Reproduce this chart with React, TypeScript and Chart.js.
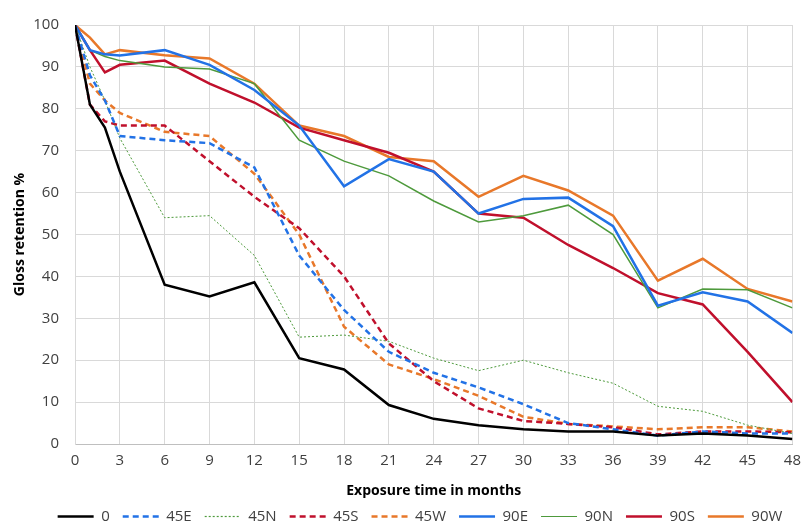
import React, { useEffect, useRef } from "react";
import { Chart, registerables } from "chart.js";

Chart.register(...registerables);

const months = [0, 1, 2, 3, 6, 9, 12, 15, 18, 21, 24, 27, 30, 33, 36, 39, 42, 45, 48];

const s0 = [100, 81, 75.5, 65, 38, 35.2, 38.6, 20.5, 17.8, 9.3, 6, 4.5, 3.5, 3, 3, 2, 2.5, 2, 1.2];
const s45E = [100, 88, 82, 73.5, 72.5, 71.8, 66, 45, 32, 22, 17, 13.5, 9.5, 5, 3.5, 2, 3, 2.5, 2.5];
const s45N = [100, 90, 82, 73, 54, 54.5, 45, 25.5, 26, 24.5, 20.5, 17.5, 20, 17, 14.5, 9, 7.8, 4.5, 2.5];
const s45S = [100, 81, 77, 76, 76, 67.5, 59, 51.5, 40, 24, 15, 8.5, 5.5, 4.8, 4, 2.3, 3, 3, 2.8];
const s45W = [100, 86, 82, 79, 74.5, 73.5, 64.5, 50, 28, 19, 15.5, 11.5, 6.5, 4.8, 4.2, 3.5, 4, 4, 3];
const s90E = [100, 94, 93, 92.7, 94, 90.5, 84.5, 76, 61.5, 68, 65, 55, 58.5, 58.8, 52, 33, 36.2, 34, 26.5];
const s90N = [100, 94, 92.5, 91.5, 90, 89.5, 86, 72.5, 67.5, 64, 58, 53, 54.5, 57, 50, 32.5, 37, 36.8, 32.5];
const s90S = [100, 94, 88.7, 90.5, 91.5, 86, 81.5, 75.5, 72.5, 69.5, 65, 55, 54, 47.5, 42, 36, 33.3, 22, 10];
const s90W = [100, 97, 93, 94, 92.8, 92, 86, 76, 73.5, 68.5, 67.5, 59, 64, 60.5, 54.5, 39, 44.2, 37, 34];

const seriesNames = ["0", "45E", "45N", "45S", "45W", "90E", "90N", "90S", "90W"];
const seriesValues = [s0, s45E, s45N, s45S, s45W, s90E, s90N, s90S, s90W];
const seriesColors = ["#000000", "#2272e6", "#4e9a3c", "#c0102c", "#e8782a", "#2272e6", "#4e9a3c", "#c0102c", "#e8782a"];
const seriesDash: number[][] = [[], [6, 4], [2, 2], [6, 4], [6, 4], [], [], [], []];
const seriesWidth = [2.5, 2.5, 1, 2.5, 2.5, 2.5, 1.5, 2.5, 2.5];

const xTitle = "Exposure time in months";
const yTitle = "Gloss retention %";
const FONT = "'Open Sans', sans-serif";

const legendShift = {
  id: "legendShift",
  afterLayout(chart: any) {
    const l = chart.legend;
    if (l) {
      l.left += 21;
      l.right += 21;
    }
  },
};

export default function App() {
  const ref = useRef<HTMLCanvasElement | null>(null);
  useEffect(() => {
    if (!ref.current) return;
    const datasets = seriesNames.map((name, i) => ({
      label: name,
      data: months.map((m, j) => ({ x: m, y: seriesValues[i][j] })),
      borderColor: seriesColors[i],
      backgroundColor: seriesColors[i],
      borderWidth: seriesWidth[i],
      borderDash: seriesDash[i],
      pointRadius: 0,
      tension: 0,
      fill: false,
    }));
    const chart = new Chart(ref.current, {
      type: "line",
      data: { datasets },
      plugins: [legendShift],
      options: {
        animation: false,
        responsive: true,
        maintainAspectRatio: false,
        layout: { padding: { left: 0, right: 11, top: 25, bottom: 0 } },
        plugins: {
          legend: {
            position: "bottom",
            maxHeight: 33,
            labels: {
              usePointStyle: true,
              pointStyle: "line",
              pointStyleWidth: 36,
              boxHeight: 15,
              padding: 13,
              color: "#404040",
              font: { family: FONT, size: 15 },
              generateLabels: (c: any) => {
                const items = (Chart as any).defaults.plugins.legend.labels.generateLabels(c);
                items.forEach((it: any, i: number) => {
                  it.lineDash = seriesDash[i];
                  it.lineWidth = seriesWidth[i] < 2 ? 1.2 : 2.5;
                  it.strokeStyle = seriesColors[i];
                  it.fillStyle = seriesColors[i];
                  it.pointStyle = "line";
                });
                return items;
              },
            },
          },
          tooltip: { enabled: false },
        },
        scales: {
          x: {
            type: "linear",
            min: 0,
            max: 48,
            ticks: { stepSize: 3, color: "#404040", padding: 8, font: { family: FONT, size: 15 } },
            grid: { color: "#d9d9d9", drawTicks: false },
            border: { color: "#bfbfbf" },
            title: { display: true, text: xTitle, color: "#000", font: { family: FONT, size: 14, weight: "bold" }, padding: { top: 0, bottom: -3 } },
            afterFit: (s: any) => { s.height = 52; },
          },
          y: {
            min: 0,
            max: 100,
            ticks: { stepSize: 10, color: "#404040", padding: 16, font: { family: FONT, size: 15 } },
            grid: { color: "#d9d9d9", drawTicks: false },
            border: { color: "#d9d9d9" },
            title: { display: true, text: yTitle, color: "#000", font: { family: FONT, size: 14, weight: "bold" }, padding: { top: 12, bottom: 0 } },
            afterFit: (s: any) => { s.width = 75; },
          },
        },
      },
    });
    return () => chart.destroy();
  }, []);
  return (
    <div style={{ position: "fixed", left: 0, top: 0, width: 809, height: 529, background: "#fff" }}>
      <canvas ref={ref} />
    </div>
  );
}
